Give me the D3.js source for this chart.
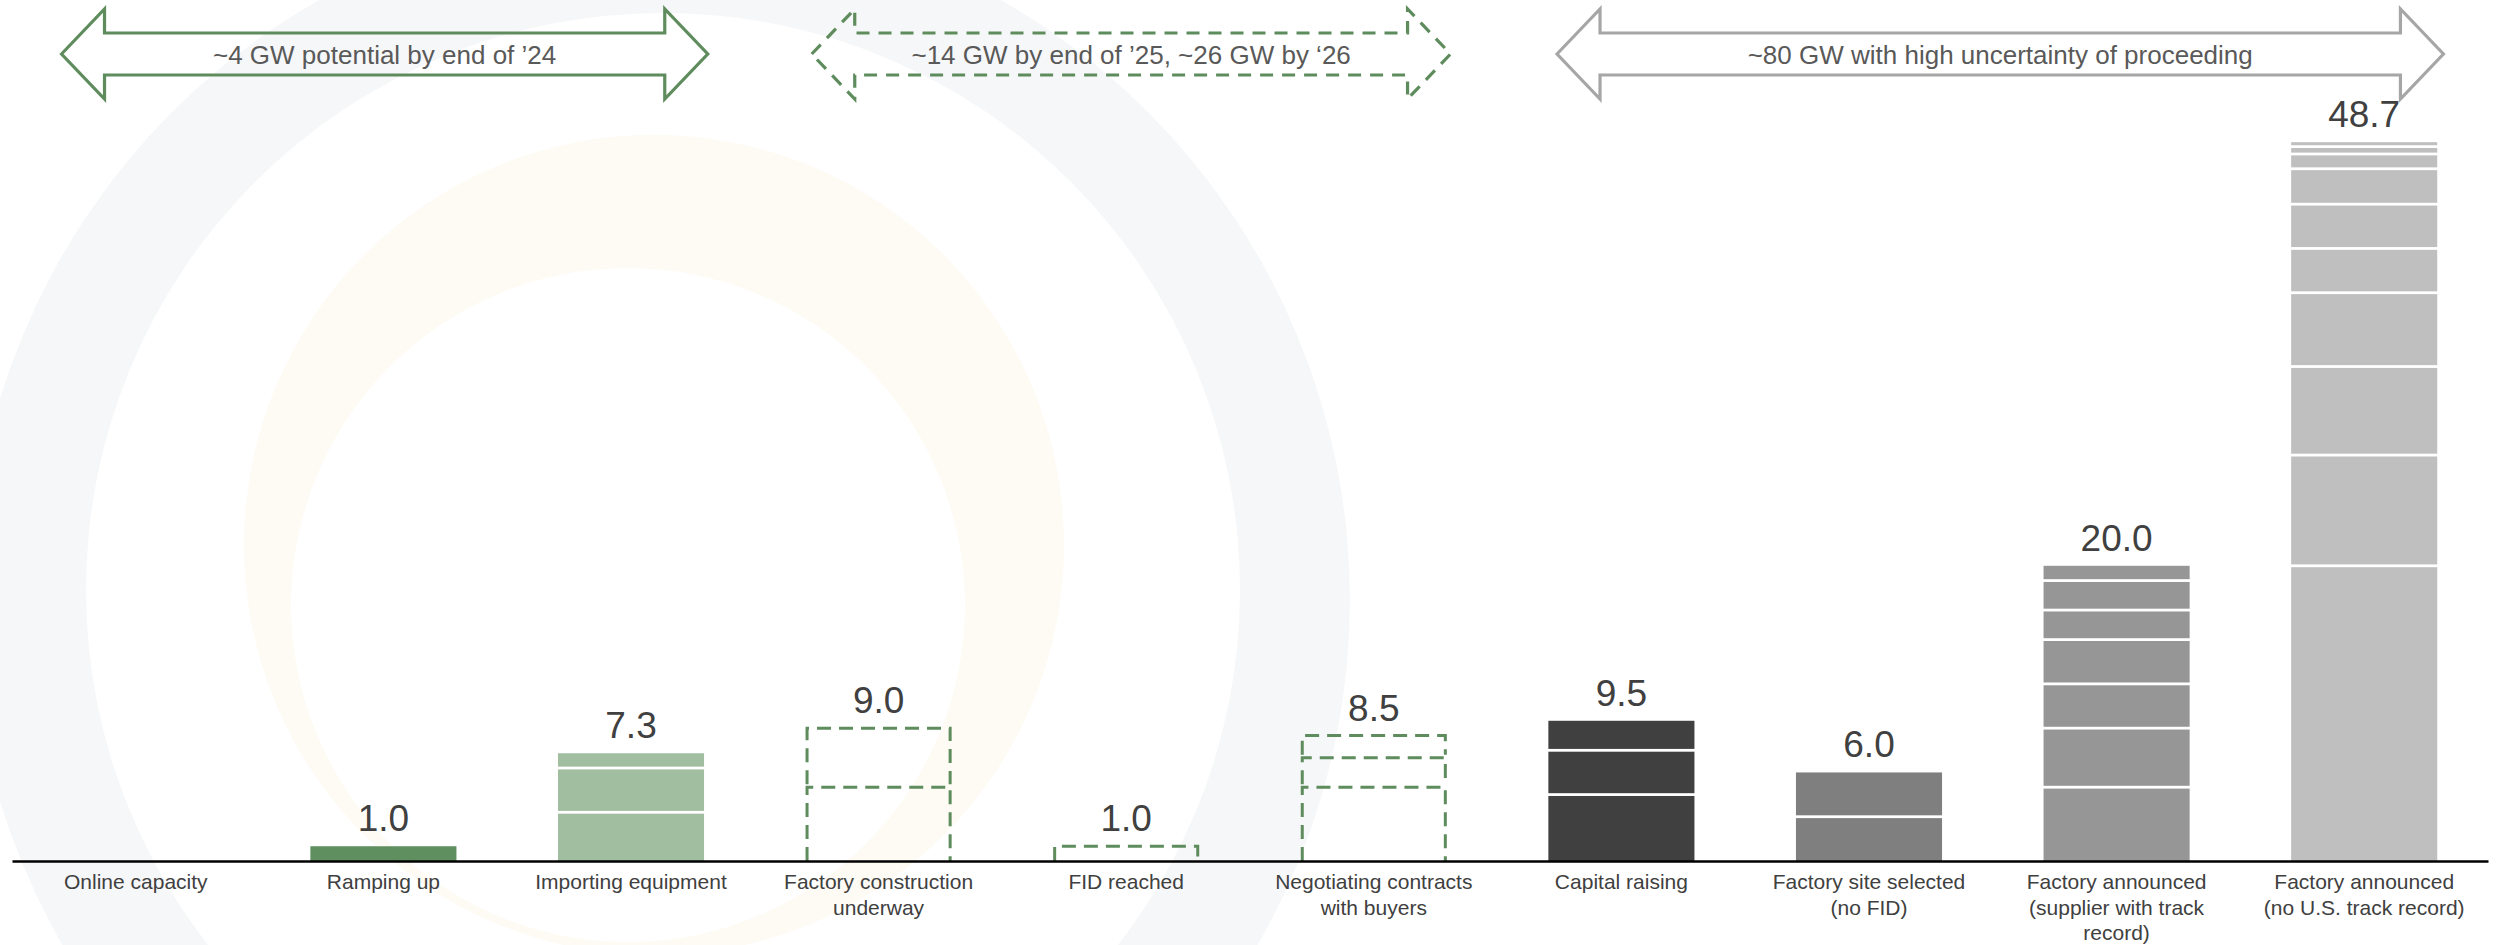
<!DOCTYPE html>
<html>
<head>
<meta charset="utf-8">
<script src="https://cdn.jsdelivr.net/npm/d3@7"></script>
<style>
  body { margin: 0; background: #fff; }
  svg { display: block; font-family: "Liberation Sans", Arial, sans-serif; }
</style>
</head>
<body>
<svg id="chart" width="2496" height="945"></svg>
<script>
// categories + label lines
const categories = [
  "Online capacity", "Ramping up", "Importing equipment", "Factory construction underway",
  "FID reached", "Negotiating contracts with buyers", "Capital raising",
  "Factory site selected (no FID)", "Factory announced (supplier with track record)",
  "Factory announced (no U.S. track record)"
];
const labelLines = [
  ["Online capacity"], ["Ramping up"], ["Importing equipment"],
  ["Factory construction", "underway"], ["FID reached"],
  ["Negotiating contracts", "with buyers"], ["Capital raising"],
  ["Factory site selected", "(no FID)"],
  ["Factory announced", "(supplier with track", "record)"],
  ["Factory announced", "(no U.S. track record)"]
];
// stacked project sizes (GW), bottom to top
const segments = [
  [],
  [1.0],
  [3.3, 3.0, 1.0],
  [5.0, 4.0],
  [1.0],
  [5.0, 2.0, 1.5],
  [4.5, 3.0, 2.0],
  [3.0, 3.0],
  [5.0, 4.0, 3.0, 3.0, 2.0, 2.0, 1.0],
  [20.0, 7.5, 6.0, 5.0, 3.0, 3.0, 2.4, 1.0, 0.5, 0.3]
];
const totals = [null, 1.0, 7.3, 9.0, 1.0, 8.5, 9.5, 6.0, 20.0, 48.7];

// bracket arrows above the bars
const arrowText = ["~4 GW potential by end of \u201924", "~14 GW by end of \u201925, ~26 GW by \u201826", "~80 GW with high uncertainty of proceeding"];
const arrowFrom = [0, 3, 6];
const arrowTo = [2, 5, 9];

// styles
const fills = [null, "#5F8F5F", "#A2BEA0", null, null, null, "#404040", "#7F7F7F", "#969696", "#BFBFBF"];
const green = "#5E8C5D";
const arrowStyle = [
  {stroke: green, dash: null, lo: 0.30, ro: 0.31},
  {stroke: green, dash: "13,9", lo: 0.27, ro: 0.31},
  {stroke: "#A6A6A6", dash: null, lo: 0.26, ro: 0.32}
];

const W = 2496, H = 945, baseY = 861;
const svg = d3.select("#chart");

// faint logo watermark
function ring(cx, cy, r) {
  return `M${cx - r},${cy}a${r},${r} 0 1,0 ${2 * r},0a${r},${r} 0 1,0 ${-2 * r},0Z`;
}
const wm = svg.append("g").attr("class", "watermark");
wm.append("path").attr("d", ring(660, 600, 690) + ring(663, 590, 577))
  .attr("fill-rule", "evenodd").attr("fill", "#F6F7F8");
wm.append("path").attr("d", ring(654, 545, 410) + ring(628, 605, 337))
  .attr("fill-rule", "evenodd").attr("fill", "#FEFBF5");

const x = d3.scaleBand().domain(categories).range([12, 2488])
  .paddingInner(0.41).paddingOuter(0.205);
const y = d3.scaleLinear().domain([0, 50]).range([baseY, baseY - 50 * 14.76]);

// stack rows
const rows = [];
segments.forEach((segs, i) => {
  let acc = 0;
  segs.forEach((v, j) => {
    rows.push({cat: categories[i], i: i, y0: acc, y1: acc + v, first: j === 0, last: j === segs.length - 1});
    acc += v;
  });
});

const gap = 1.4;
const bars = svg.append("g").attr("class", "bars");
bars.selectAll("rect.solid")
  .data(rows.filter(d => fills[d.i]))
  .enter().append("rect")
    .attr("class", "solid")
    .attr("x", d => x(d.cat))
    .attr("width", x.bandwidth())
    .attr("y", d => y(d.y1) + (d.last ? 0 : gap))
    .attr("height", d => y(d.y0) - y(d.y1) - (d.last ? 0 : gap) - (d.first ? 0 : gap))
    .attr("fill", d => fills[d.i]);

bars.selectAll("path.dashed")
  .data(rows.filter(d => !fills[d.i]))
  .enter().append("path")
    .attr("class", "dashed")
    .attr("d", d => {
      const x0 = x(d.cat) + 1.5, x1 = x(d.cat) + x.bandwidth() - 1.5;
      const t = y(d.y1), b = y(d.y0) - (d.first ? 0 : 3);
      return `M${x0},${b}V${t}H${x1}V${b}`;
    })
    .attr("fill", "none")
    .attr("stroke", green)
    .attr("stroke-width", 3)
    .attr("stroke-dasharray", "14,8");

// total labels
svg.append("g").selectAll("text")
  .data(totals.map((t, i) => ({t, i})).filter(d => d.t != null))
  .enter().append("text")
    .attr("x", d => x(categories[d.i]) + x.bandwidth() / 2)
    .attr("y", d => y(d.t) - 15)
    .attr("text-anchor", "middle")
    .attr("font-size", 37)
    .attr("fill", "#404040")
    .text(d => d.t.toFixed(1));

// axis
const axis = svg.append("g")
  .attr("transform", "translate(0," + baseY + ")")
  .call(d3.axisBottom(x).tickSize(0).tickSizeOuter(0));
axis.select(".domain").attr("stroke", "#000").attr("stroke-width", 2.5);
axis.selectAll(".tick text").each(function(d, i) {
  const t = d3.select(this).text(null).attr("y", 0).attr("dy", null)
    .attr("font-size", 21).attr("fill", "#404040")
    .attr("font-family", "'Liberation Sans', Arial, sans-serif");
  labelLines[i].forEach((ln, k) => {
    t.append("tspan").attr("x", 0).attr("y", 28 + k * 25.5).text(ln);
  });
});

// arrows
const cy = 54, headLen = 43, headH = 45, shaftH = 21;
const arrows = svg.append("g").attr("class", "arrows");
arrowText.forEach((txt, i) => {
  const st = arrowStyle[i];
  const step = x.step();
  const l = x(categories[arrowFrom[i]]) + x.bandwidth() / 2 - st.lo * step;
  const r = x(categories[arrowTo[i]]) + x.bandwidth() / 2 + st.ro * step;
  const p = d3.path();
  p.moveTo(l, cy);
  p.lineTo(l + headLen, cy - headH);
  p.lineTo(l + headLen, cy - shaftH);
  p.lineTo(r - headLen, cy - shaftH);
  p.lineTo(r - headLen, cy - headH);
  p.lineTo(r, cy);
  p.lineTo(r - headLen, cy + headH);
  p.lineTo(r - headLen, cy + shaftH);
  p.lineTo(l + headLen, cy + shaftH);
  p.lineTo(l + headLen, cy + headH);
  p.closePath();
  arrows.append("path")
    .attr("d", p.toString())
    .attr("fill", "none")
    .attr("stroke", st.stroke)
    .attr("stroke-width", 3.2)
    .attr("stroke-dasharray", st.dash);
  arrows.append("text")
    .attr("x", (l + r) / 2)
    .attr("y", cy + 10)
    .attr("text-anchor", "middle")
    .attr("font-size", 26)
    .attr("fill", "#595959")
    .text(txt);
});
</script>
</body>
</html>
